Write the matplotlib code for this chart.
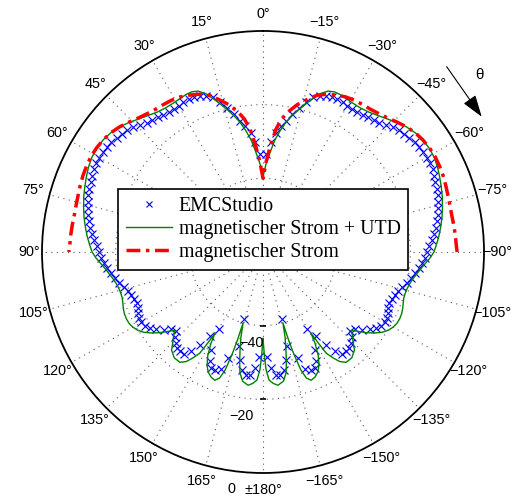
import numpy as np
import matplotlib
matplotlib.use('Agg')
import matplotlib.pyplot as plt

# --- values (left half, theta in degrees, level in dB) ---
# the pattern is mirror symmetric about 0 deg, right half = negated angles

green_theta = [0, 1, 2, 4, 6, 8, 10, 12, 14, 16, 18, 20, 22, 24, 26, 28, 31, 34,
               37, 40, 43, 46, 49, 52, 55, 58, 61, 64, 67, 70, 73, 76, 79, 82,
               85, 88, 90, 92, 94, 96, 98, 100, 102, 104, 106, 108, 110, 112,
               114, 116, 118, 120, 122, 124, 126, 128, 130, 131.6, 133, 134.5,
               137, 140, 143, 145, 146.5, 148, 148.7, 149.4, 150.3, 151.9,
               153.6, 155.4, 157.5, 159.4, 161, 162.2, 163.2, 163.8, 164.3,
               165.5, 166.8, 168, 169.2, 171, 173.6, 175.5, 177.3, 178.5,
               179.2, 180]
green_db = [-39.5, -38, -36, -33, -29.5, -26.8, -24.3, -22.2, -20.3, -18.3,
            -16.2, -14.2, -12.9, -12.4, -12.4, -12.6, -12.8, -12.8, -12.4,
            -11.6, -10.6, -9.4, -8.3, -7.5, -7.0, -6.8, -6.9, -7.3, -7.9,
            -8.5, -9.1, -9.8, -10.5, -11.3, -12.1, -13.0, -13.6, -14.6, -15.8,
            -16.9, -17.8, -18.6, -19.2, -19.6, -19.8, -19.8, -19.5, -19.1,
            -18.8, -18.7, -18.8, -19.2, -19.9, -21.0, -22.6, -24.4, -26.5,
            -28.0, -26.8, -25.8, -23.6, -22.5, -22.5, -23.7, -25.5, -27.6,
            -31, -34.5, -31.5, -28.2, -25.8, -24.2, -23.2, -22.8, -23.8,
            -26.3, -31, -35, -40, -36, -32.7, -29.5, -26.6, -24.5, -23.6,
            -24.2, -25.2, -28, -31.5, -36.5]

red_theta = [0, 2, 4, 6, 8, 10, 13, 16, 19, 22, 25, 28, 31, 34, 37, 40, 43,
             46, 49, 52, 55, 58, 61, 64, 67, 70, 73, 76, 79, 82, 85, 88, 90]
red_db = [-40, -35.5, -31, -26.5, -23.5, -21.5, -19, -17, -15, -13.8, -13,
          -12.3, -11.9, -11.7, -11.5, -11.0, -10.3, -9.3, -8.3, -7.5, -7.0,
          -6.7, -6.6, -6.7, -6.9, -7.2, -7.5, -7.7, -7.8, -7.7, -7.6, -7.5,
          -7.3]

blue_theta = list(range(0, 181, 2))
blue_db = [-60, -33.5, -30.0, -27.5, -25.5, -23.8, -21.8, -19.6, -17.6, -15.9,
           -14.8, -14.3, -13.9, -13.9, -14.0, -14.2, -14.3, -14.2, -13.9,
           -13.6, -13.3, -12.8, -11.9, -11.0, -10.4, -10.0, -9.6, -9.0, -8.8,
           -8.7, -8.7, -8.8, -8.8, -9.2, -9.5, -9.8, -10.1, -10.6, -11.1,
           -11.5, -12.0, -12.6, -13.2, -14.0, -14.8, -15.5, -16.0, -16.6,
           -17.4, -18.2, -19.1, -20.1, -21.0, -21.8, -22.4, -22.7, -23.0,
           -22.8, -22.3, -22.0, -21.9, -22.2, -23.1, -24.2, -25.8, -27.5,
           -28.1, -26.6, -25.8, -25.1, -24.8, -25.0, -26.8, -29.5, -33.0,
           -36.0, -30.0, -27.0, -25.6, -25.3, -26.3, -29.6, -41.0, -33.6,
           -30.0, -27.6, -26.2, -26.5, -28.5, -31.5, -60]

labels = ['EMCStudio', 'magnetischer Strom + UTD', 'magnetischer Strom']
r_min, r_max = -60, 0
r_rings = [-40, -20]
r_label_vals = [-40, -20, 0]


def mirror(theta, vals):
    # full circle from the left half (symmetric pattern)
    t = np.asarray(theta, float)
    v = np.asarray(vals, float)
    t_full = np.concatenate([-t[::-1], t[1:]])
    v_full = np.concatenate([v[::-1], v[1:]])
    return np.deg2rad(t_full), v_full


fig = plt.figure(figsize=(5.14, 4.98), dpi=100)
ax = fig.add_axes([0.0817, 0.0502, 0.860, 0.8876], projection='polar')
ax.set_theta_zero_location('N')
ax.set_theta_direction(1)
ax.set_ylim(r_min, r_max)

t, v = mirror(blue_theta, blue_db)
ax.plot(t, v, ls='none', marker='x', ms=6, mew=0.8, color='#0000ff',
        label=labels[0], zorder=3)
t, v = mirror(green_theta, green_db)
ax.plot(t, v, color=(0, 0.5, 0), lw=1.0, label=labels[1], zorder=3)
t, v = mirror(red_theta, red_db)
ax.plot(t, v, color='#ff0000', lw=2.5, ls=(0, (4, 1.6, 1, 1.6)),
        label=labels[2], zorder=3)

# grid
ax.set_xticks(np.deg2rad(np.arange(0, 360, 15)))
ax.set_yticks(r_rings)
ax.set_xticklabels([])
ax.set_yticklabels([])
ax.grid(True, ls=(0, (1, 4)), color='0.35', lw=0.8)
ax.spines['polar'].set_linewidth(1.3)
ax.tick_params(axis='x', direction='in', length=5, width=1, color='k')
ax.plot([np.pi] * len(r_rings), r_rings, ls='none', marker='_', ms=4,
        mew=1.2, color='k', clip_on=False)

# angle labels
lab_font = dict(family=['Liberation Sans', 'DejaVu Sans'], fontsize=10.4)
for a in range(0, 360, 15):
    if a == 180:
        s = '\u00b1180\u00b0'
    elif a > 180:
        s = '\u2212%d\u00b0' % (360 - a)
    else:
        s = '%d\u00b0' % a
    r_txt = 3.6 if a in (90, 270) else 4.5
    ax.text(np.deg2rad(a), r_txt, s, ha='center', va='center', **lab_font)

for rv in r_label_vals:
    s = ('\u2212%d' % -rv) if rv < 0 else '%d' % rv
    ax.text(np.deg2rad(172.5), rv + 4.9, s, ha='center', va='center',
            **lab_font)

# theta direction arrow
fig.add_artist(matplotlib.patches.FancyArrowPatch(
    (446.7 / 514, 1 - 66.7 / 498), (481.7 / 514, 1 - 116.7 / 498),
    transform=fig.transFigure, arrowstyle='-|>,head_length=0.9,head_width=0.3',
    mutation_scale=15, color='k', lw=0.8, shrinkA=0, shrinkB=0))
fig.text(479 / 514, 1 - 75 / 498, '\u03b8', ha='center', va='center',
         fontsize=11, family=['Liberation Sans', 'DejaVu Sans'])

leg = ax.legend(loc='upper left', bbox_to_anchor=(118 / 514, 1 - 189 / 498),
                bbox_transform=fig.transFigure, borderaxespad=0,
                prop=dict(family=['Liberation Serif', 'DejaVu Serif'],
                          size=14.3),
                fancybox=False, framealpha=1, edgecolor='k',
                handlelength=2.3, handletextpad=0.35, borderpad=0.4,
                labelspacing=0.2, markerscale=0.75)
leg.get_frame().set_linewidth(1.2)

fig.savefig('out.png', dpi=100)
